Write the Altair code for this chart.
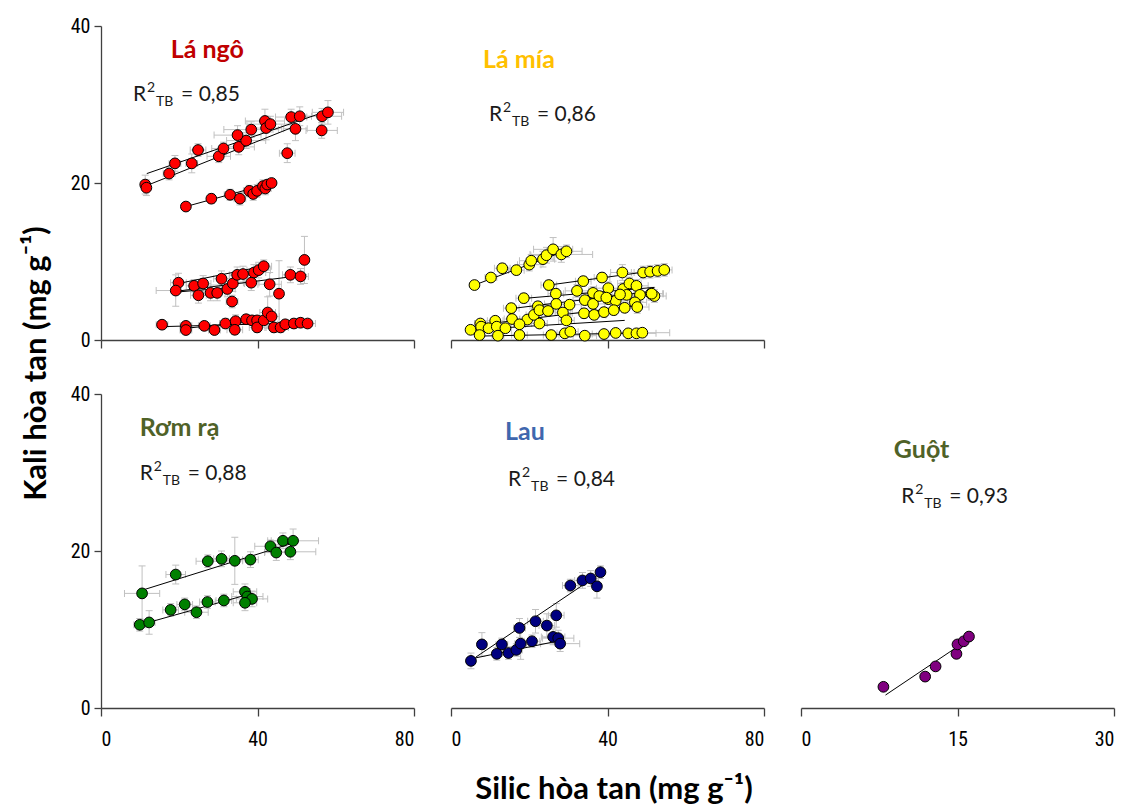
import altair as alt
import pandas as pd

# ---------------- data ----------------
# Lá ngô
ngo_x = [11.3, 11.6, 17.4, 18.9, 23.2, 24.8, 30.1, 31.3, 35.2, 37.1, 34.9, 38.4, 41.9, 42.2, 43.3, 48.6, 50.8, 49.7, 47.6, 56.5, 58.0, 56.4,
         21.7, 28.2, 33.0, 35.5, 37.9, 38.9, 39.9, 41.4, 42.0, 42.5, 43.6,
         19.8, 19.1, 23.8, 26.1, 24.9, 28.0, 29.7, 30.8, 32.3, 33.7, 33.5, 34.8, 36.3, 38.4, 39.1, 40.3, 41.6, 43.1, 45.5, 48.4, 51.0, 52.0,
         15.6, 21.7, 21.7, 26.4, 29.0, 31.8, 34.4, 34.2, 37.1, 38.6, 39.9, 39.9, 41.6, 42.6, 43.6, 44.2, 45.9, 47.1, 49.3, 51.0, 52.8]
ngo_y = [19.8, 19.4, 21.2, 22.5, 22.5, 24.2, 23.4, 24.4, 24.6, 25.4, 26.1, 26.8, 27.9, 27.0, 27.5, 28.4, 28.5, 26.9, 23.8, 28.5, 29.0, 26.7,
         17.0, 18.0, 18.5, 18.0, 19.0, 18.6, 19.0, 19.6, 19.3, 19.8, 20.0,
         7.3, 6.3, 6.9, 7.2, 5.7, 6.0, 6.0, 7.8, 6.5, 7.2, 4.9, 8.3, 8.4, 7.3, 8.6, 8.9, 9.4, 7.1, 5.9, 8.3, 8.1, 10.2,
         1.95, 1.8, 1.27, 1.8, 1.27, 2.1, 2.4, 1.3, 2.65, 2.5, 2.5, 1.6, 2.5, 3.5, 3.0, 1.6, 1.6, 2.0, 2.1, 2.2, 2.1]
ngo_ex = [1.0, 1.0, 1.5, 1.5, 1.5, 2.0, 3.0, 3.0, 4.0, 5.0, 6.0, 7.0, 5.0, 4.0, 6.0, 4.0, 3.0, 3.0, 2.0, 5.0, 4.0, 4.0,
          0.8, 1.0, 1.5, 1.5, 1.5, 1.5, 1.5, 1.5, 1.5, 1.5, 1.0,
          2.0, 5.0, 2.0, 2.0, 2.0, 2.0, 2.0, 2.0, 2.0, 3.0, 1.5, 2.0, 2.0, 2.0, 3.0, 3.0, 2.0, 3.0, 1.0, 2.0, 2.0, 1.0,
          1.5, 1.5, 1.5, 1.5, 1.5, 1.5, 2.0, 2.0, 2.0, 2.0, 2.0, 2.0, 2.0, 2.0, 2.0, 2.0, 2.0, 2.0, 2.0, 2.0, 2.0]
ngo_ey = [1.2, 1.0, 0.8, 1.0, 1.2, 0.8, 0.8, 0.8, 1.0, 1.0, 1.2, 1.0, 1.5, 1.5, 1.0, 1.0, 1.2, 1.5, 1.2, 1.0, 1.5, 1.0,
          0.5, 0.6, 0.7, 0.8, 0.7, 0.8, 0.8, 0.8, 0.8, 0.6, 0.5,
          1.2, 2.0, 0.8, 1.0, 1.0, 1.0, 1.0, 1.0, 1.0, 1.0, 0.8, 1.0, 1.0, 1.0, 1.0, 1.0, 0.8, 1.5, 4.2, 1.0, 1.0, 3.0,
          0.5, 0.5, 0.5, 0.5, 0.5, 0.6, 0.8, 0.6, 0.6, 0.6, 0.6, 0.6, 0.6, 2.0, 0.6, 0.6, 0.6, 0.6, 0.6, 0.6, 0.5]
ngo_fit_x1 = [11.7, 11.3, 21.7, 19.8, 19.1, 19.1, 15.6, 21.7]
ngo_fit_y1 = [21.2, 19.6, 17.0, 7.2, 6.2, 6.1, 1.7, 1.5]
ngo_fit_x2 = [58.0, 50.0, 43.6, 42.5, 52.5, 33.7, 52.8, 44.2]
ngo_fit_y2 = [29.2, 27.3, 20.0, 9.5, 8.3, 6.7, 2.2, 2.6]

# Lá mía
mia_x = [6.0, 10.2, 13.1, 16.7, 20.0, 20.5, 23.5, 24.4, 26.1, 28.2, 29.5,
         25.0, 33.8, 38.6, 43.8, 49.1, 50.9, 52.8, 54.5,
         18.6, 26.8, 32.2, 36.3, 40.2, 44.0, 45.6, 47.4, 51.1, 52.0,
         15.4, 22.2, 26.9, 30.3, 34.2, 36.3, 40.2, 42.1, 44.9, 48.3, 51.3,
         7.5, 11.3, 15.6, 19.5, 21.2, 22.6, 24.8, 28.6, 34.0, 36.6, 39.1, 41.6, 44.4, 47.0, 47.6,
         5.0, 7.7, 9.6, 11.7, 13.9, 17.5, 22.6, 29.5, 37.9, 39.7, 43.2,
         7.3, 12.0, 17.5, 25.6, 29.1, 30.5, 34.2, 39.1, 42.1, 45.3, 47.4, 48.9]
mia_y = [7.0, 7.96, 9.14, 8.9, 9.6, 10.1, 10.3, 10.8, 11.55, 10.9, 11.3,
         7.0, 7.5, 7.96, 8.6, 8.6, 8.7, 8.8, 8.93,
         5.33, 5.9, 6.26, 6.0, 6.6, 6.5, 7.2, 6.9, 5.9, 5.6,
         4.06, 4.3, 4.6, 4.5, 5.08, 4.6, 5.2, 5.0, 5.75, 5.75, 5.9,
         2.1, 2.45, 2.67, 2.6, 3.2, 3.8, 3.7, 3.5, 3.4, 3.2, 3.55, 3.8, 4.1, 4.8, 4.2,
         1.3, 1.7, 1.5, 1.7, 1.5, 2.0, 2.1, 2.5, 5.6, 5.4, 5.8,
         0.63, 0.55, 0.63, 0.63, 0.85, 1.06, 0.55, 0.76, 0.9, 0.85, 0.85, 0.93]
mia_ex = [1.0, 1.5, 2.0, 2.0, 3.0, 3.0, 3.0, 4.0, 5.0, 8.0, 4.0,
          2.0, 2.0, 2.0, 3.0, 3.0, 3.0, 3.0, 2.0,
          2.0, 2.0, 3.0, 3.0, 3.0, 3.0, 3.0, 3.0, 3.0, 3.0,
          2.0, 2.0, 3.0, 3.0, 3.0, 3.0, 3.0, 3.0, 3.0, 3.0, 3.0,
          1.5, 2.0, 2.0, 2.0, 2.0, 2.0, 2.0, 2.0, 3.0, 3.0, 3.0, 3.0, 3.0, 3.0, 3.0,
          1.0, 1.0, 1.0, 1.5, 1.5, 1.5, 2.0, 2.0, 2.0, 2.0, 2.0,
          1.0, 1.5, 2.0, 2.0, 2.0, 2.0, 3.0, 3.0, 3.0, 4.0, 5.0, 7.0]
mia_ey = [0.5, 0.5, 0.6, 0.6, 0.8, 0.8, 1.0, 1.0, 1.5, 1.0, 0.8,
          0.6, 0.6, 0.6, 1.0, 0.8, 0.8, 0.8, 0.8,
          0.6, 0.6, 0.8, 0.8, 0.8, 0.8, 0.8, 0.8, 0.8, 0.8,
          0.6, 0.6, 0.6, 0.6, 0.6, 0.6, 0.6, 0.6, 0.6, 0.8, 0.8,
          0.5, 0.5, 0.5, 0.5, 0.5, 0.6, 0.6, 0.6, 0.6, 0.6, 0.6, 0.6, 0.6, 0.8, 0.8,
          0.4, 0.4, 0.4, 0.4, 0.4, 0.4, 0.5, 0.5, 0.6, 0.6, 0.6,
          0.3, 0.3, 0.3, 0.3, 0.3, 0.3, 0.3, 0.3, 0.3, 0.3, 0.3, 0.4]
mia_fit_x1 = [6.0, 25.0, 18.6, 15.4, 8.5, 5.0, 7.3]
mia_fit_y1 = [7.0, 7.0, 5.3, 4.0, 2.0, 1.3, 0.5]
mia_fit_x2 = [29.5, 54.5, 52.0, 51.3, 47.8, 44.4, 48.9]
mia_fit_y2 = [11.4, 9.0, 6.7, 6.2, 4.4, 2.5, 0.9]

# Rơm rạ
rom_x = [10.5, 19.1, 27.3, 30.8, 34.2, 38.2, 43.3, 44.8, 46.5, 48.4, 49.1,
         9.9, 12.3, 17.8, 21.4, 24.4, 27.2, 31.4, 36.8, 37.4, 38.6, 36.8]
rom_y = [14.6, 17.0, 18.7, 19.0, 18.75, 18.9, 20.6, 19.8, 21.3, 19.9, 21.3,
         10.6, 10.9, 12.5, 13.2, 12.2, 13.5, 13.7, 14.8, 14.2, 13.9, 13.4]
rom_ex = [4.5, 2.5, 3.0, 2.0, 2.0, 2.0, 4.0, 3.0, 3.0, 6.5, 6.5,
          1.5, 1.5, 2.0, 2.0, 3.0, 2.0, 2.0, 3.0, 4.0, 4.0, 3.0]
rom_ey = [3.5, 1.2, 0.8, 1.0, 3.0, 1.0, 0.8, 1.0, 1.0, 1.0, 1.5,
          0.8, 1.5, 0.8, 0.8, 0.8, 0.8, 0.8, 1.0, 1.0, 1.0, 1.0]
rom_fit_x1 = [10.5, 10.0]
rom_fit_y1 = [15.0, 10.6]
rom_fit_x2 = [49.0, 38.6]
rom_fit_y2 = [21.0, 14.6]

# Lau
lau_x = [5.1, 7.9, 11.7, 13.0, 14.7, 16.7, 17.8, 17.5, 20.7, 21.6, 24.5, 26.9, 26.1, 27.4, 27.9, 30.5, 33.6, 35.7, 38.2, 37.3]
lau_y = [6.0, 8.1, 6.9, 8.1, 7.0, 7.4, 8.2, 10.2, 8.5, 11.05, 10.5, 11.8, 9.06, 8.9, 8.2, 15.6, 16.25, 16.5, 17.3, 15.5]
lau_ex = [1.0, 1.0, 1.0, 1.5, 1.5, 1.5, 1.5, 1.5, 2.0, 2.0, 2.0, 2.0, 3.0, 4.0, 5.0, 2.0, 2.0, 2.0, 1.0, 1.0]
lau_ey = [1.0, 1.5, 0.8, 0.8, 0.8, 0.8, 2.0, 1.2, 0.8, 1.5, 1.5, 1.5, 1.0, 1.0, 1.0, 0.8, 1.0, 1.0, 0.8, 1.5]
lau_fit_x1 = [6.4, 5.5]
lau_fit_y1 = [6.5, 6.3]
lau_fit_x2 = [38.0, 28.0]
lau_fit_y2 = [17.1, 8.6]

# Guột
guot_x = [7.9, 11.9, 12.9, 14.9, 15.0, 15.6, 16.1]
guot_y = [2.7, 4.0, 5.3, 6.9, 8.1, 8.5, 9.1]
guot_fit_x1 = [8.1]
guot_fit_y1 = [1.65]
guot_fit_x2 = [16.0]
guot_fit_y2 = [8.7]

# labels
panel_names = ["Lá ngô", "Lá mía", "Rơm rạ", "Lau", "Guột"]
panel_r2 = ["0,85", "0,86", "0,88", "0,84", "0,93"]
name_x = [17.8, 8.2, 9.9, 13.8, 8.9]
name_y = [35.9, 34.6, 34.6, 34.1, 31.8]
r2_x = [8.2, 9.7, 9.9, 14.6, 9.6]
r2_y = [30.4, 27.9, 29.0, 28.3, 26.1]
y_ticks = [0, 20, 40]
x_ticks_wide = [0, 40, 80]
x_ticks_narrow = [0, 15, 30]

# ---------------- styling ----------------
NAME_COLORS = ["#C00000", "#FFC000", "#4F6228", "#3F67AE", "#4F6228"]
POINT_COLORS = ["#FF0000", "#FFFF00", "#008000", "#000080", "#800080"]
GRAY = "#C0C0C0"
AXC = "#404040"
TICK_FONT = "Liberation Sans Narrow, Roboto Condensed, DejaVu Sans Condensed, Roboto, sans-serif"
TEXT_FONT = "Lato, Open Sans, sans-serif"
W, H = 313, 314


def panel(i, xs, ys, exs, eys, fx1, fy1, fx2, fy2, xmax, xticks, show_y, show_xlabels):
    xsc = alt.Scale(domain=[0, xmax], nice=False, zero=True)
    ysc = alt.Scale(domain=[0, 40], nice=False)
    xaxis = alt.Axis(values=xticks, labels=show_xlabels, title=None, grid=False,
                     labelPadding=13, tickSize=8)
    yaxis = alt.Axis(values=y_ticks, title=None, grid=False, labelPadding=4, tickSize=7) if show_y else None

    def X(f):
        return alt.X(f, type="quantitative", scale=xsc, axis=xaxis)

    def Y(f):
        return alt.Y(f, type="quantitative", scale=ysc, axis=yaxis)

    pts = pd.DataFrame({"x": xs, "y": ys})
    layers = []
    if exs is not None:
        eb = pd.DataFrame({"x": xs, "y": ys, "ex": exs, "ey": eys})
        eb["xlo"] = eb["x"] - eb["ex"]
        eb["xhi"] = eb["x"] + eb["ex"]
        eb["ylo"] = (eb["y"] - eb["ey"]).clip(lower=0)
        eb["yhi"] = eb["y"] + eb["ey"]
        ebc = alt.Chart(eb)
        layers.append(ebc.mark_rule(color=GRAY, strokeWidth=1).encode(x=X("xlo"), x2="xhi", y=Y("y")))
        layers.append(ebc.mark_rule(color=GRAY, strokeWidth=1).encode(x=X("x"), y=Y("ylo"), y2="yhi"))
        for fx in ["xlo", "xhi"]:
            layers.append(ebc.mark_tick(color=GRAY, orient="vertical", size=7, thickness=1, opacity=1)
                          .encode(x=X(fx), y=Y("y")))
        for fy in ["ylo", "yhi"]:
            layers.append(ebc.mark_tick(color=GRAY, orient="horizontal", size=7, thickness=1, opacity=1)
                          .encode(x=X("x"), y=Y(fy)))
    fits = pd.DataFrame({"x1": fx1, "y1": fy1, "x2": fx2, "y2": fy2})
    layers.append(alt.Chart(fits).mark_rule(color="#000000", strokeWidth=1)
                  .encode(x=X("x1"), y=Y("y1"), x2="x2", y2="y2"))
    layers.append(alt.Chart(pts).mark_point(filled=True, shape="circle", size=115,
                                            fill=POINT_COLORS[i], stroke="#000000",
                                            strokeWidth=1, opacity=1)
                  .encode(x=X("x"), y=Y("y")))
    ann = pd.DataFrame({"nx": [name_x[i]], "ny": [name_y[i]], "name": [panel_names[i]],
                        "rx": [r2_x[i]], "ry": [r2_y[i]], "r": ["R"], "sup": ["2"], "sub": ["TB"],
                        "val": ["= " + panel_r2[i]]})
    ac = alt.Chart(ann)
    layers.append(ac.mark_text(align="left", baseline="alphabetic", font=TEXT_FONT, fontWeight="bold",
                               fontSize=25, color=NAME_COLORS[i])
                  .encode(x=X("nx"), y=Y("ny"), text="name:N"))
    layers.append(ac.mark_text(align="left", baseline="alphabetic", font=TEXT_FONT, fontSize=21, color="#1a1a1a")
                  .encode(x=X("rx"), y=Y("ry"), text="r:N"))
    layers.append(ac.mark_text(align="left", baseline="alphabetic", font=TEXT_FONT, fontSize=14, color="#1a1a1a",
                               dx=14, dy=-9)
                  .encode(x=X("rx"), y=Y("ry"), text="sup:N"))
    layers.append(ac.mark_text(align="left", baseline="alphabetic", font=TEXT_FONT, fontSize=14, color="#1a1a1a",
                               dx=23, dy=5)
                  .encode(x=X("rx"), y=Y("ry"), text="sub:N"))
    layers.append(ac.mark_text(align="left", baseline="alphabetic", font=TEXT_FONT, fontSize=21, color="#1a1a1a",
                               dx=48)
                  .encode(x=X("rx"), y=Y("ry"), text="val:N"))
    return alt.layer(*layers).properties(width=W, height=H)


p1 = panel(0, ngo_x, ngo_y, ngo_ex, ngo_ey, ngo_fit_x1, ngo_fit_y1, ngo_fit_x2, ngo_fit_y2, 80, x_ticks_wide, True, False)
p2 = panel(1, mia_x, mia_y, mia_ex, mia_ey, mia_fit_x1, mia_fit_y1, mia_fit_x2, mia_fit_y2, 80, x_ticks_wide, False, False)
p3 = panel(2, rom_x, rom_y, rom_ex, rom_ey, rom_fit_x1, rom_fit_y1, rom_fit_x2, rom_fit_y2, 80, x_ticks_wide, True, True)
p4 = panel(3, lau_x, lau_y, lau_ex, lau_ey, lau_fit_x1, lau_fit_y1, lau_fit_x2, lau_fit_y2, 80, x_ticks_wide, False, True)
p5 = panel(4, guot_x, guot_y, None, None, guot_fit_x1, guot_fit_y1, guot_fit_x2, guot_fit_y2, 30, x_ticks_narrow, False, True)

top = alt.hconcat(p1, p2, spacing=37, bounds="flush")
bottom = alt.hconcat(p3, p4, p5, spacing=37, bounds="flush")
grid = alt.vconcat(top, bottom, spacing=34).properties(
    title=alt.TitleParams("Kali hòa tan (mg g⁻¹)", orient="left", anchor="middle", font=TEXT_FONT,
                          fontSize=31, fontWeight="bold", color="#000000", offset=17, dx=19)
)
chart = alt.vconcat(grid).properties(
    title=alt.TitleParams("Silic hòa tan (mg g⁻¹)", orient="bottom", anchor="middle", font=TEXT_FONT,
                          fontSize=31, fontWeight="bold", color="#000000", offset=26, dx=46),
    padding={"left": 21, "top": 16, "right": 5, "bottom": 2},
).configure_view(strokeWidth=0).configure_axis(
    domainColor=AXC, tickColor=AXC, domainWidth=1.3, tickWidth=1.3,
    labelFont=TICK_FONT, labelFontSize=20, labelColor="#000000"
)

chart.save("out.html", embed_options={"renderer": "svg", "actions": False})
